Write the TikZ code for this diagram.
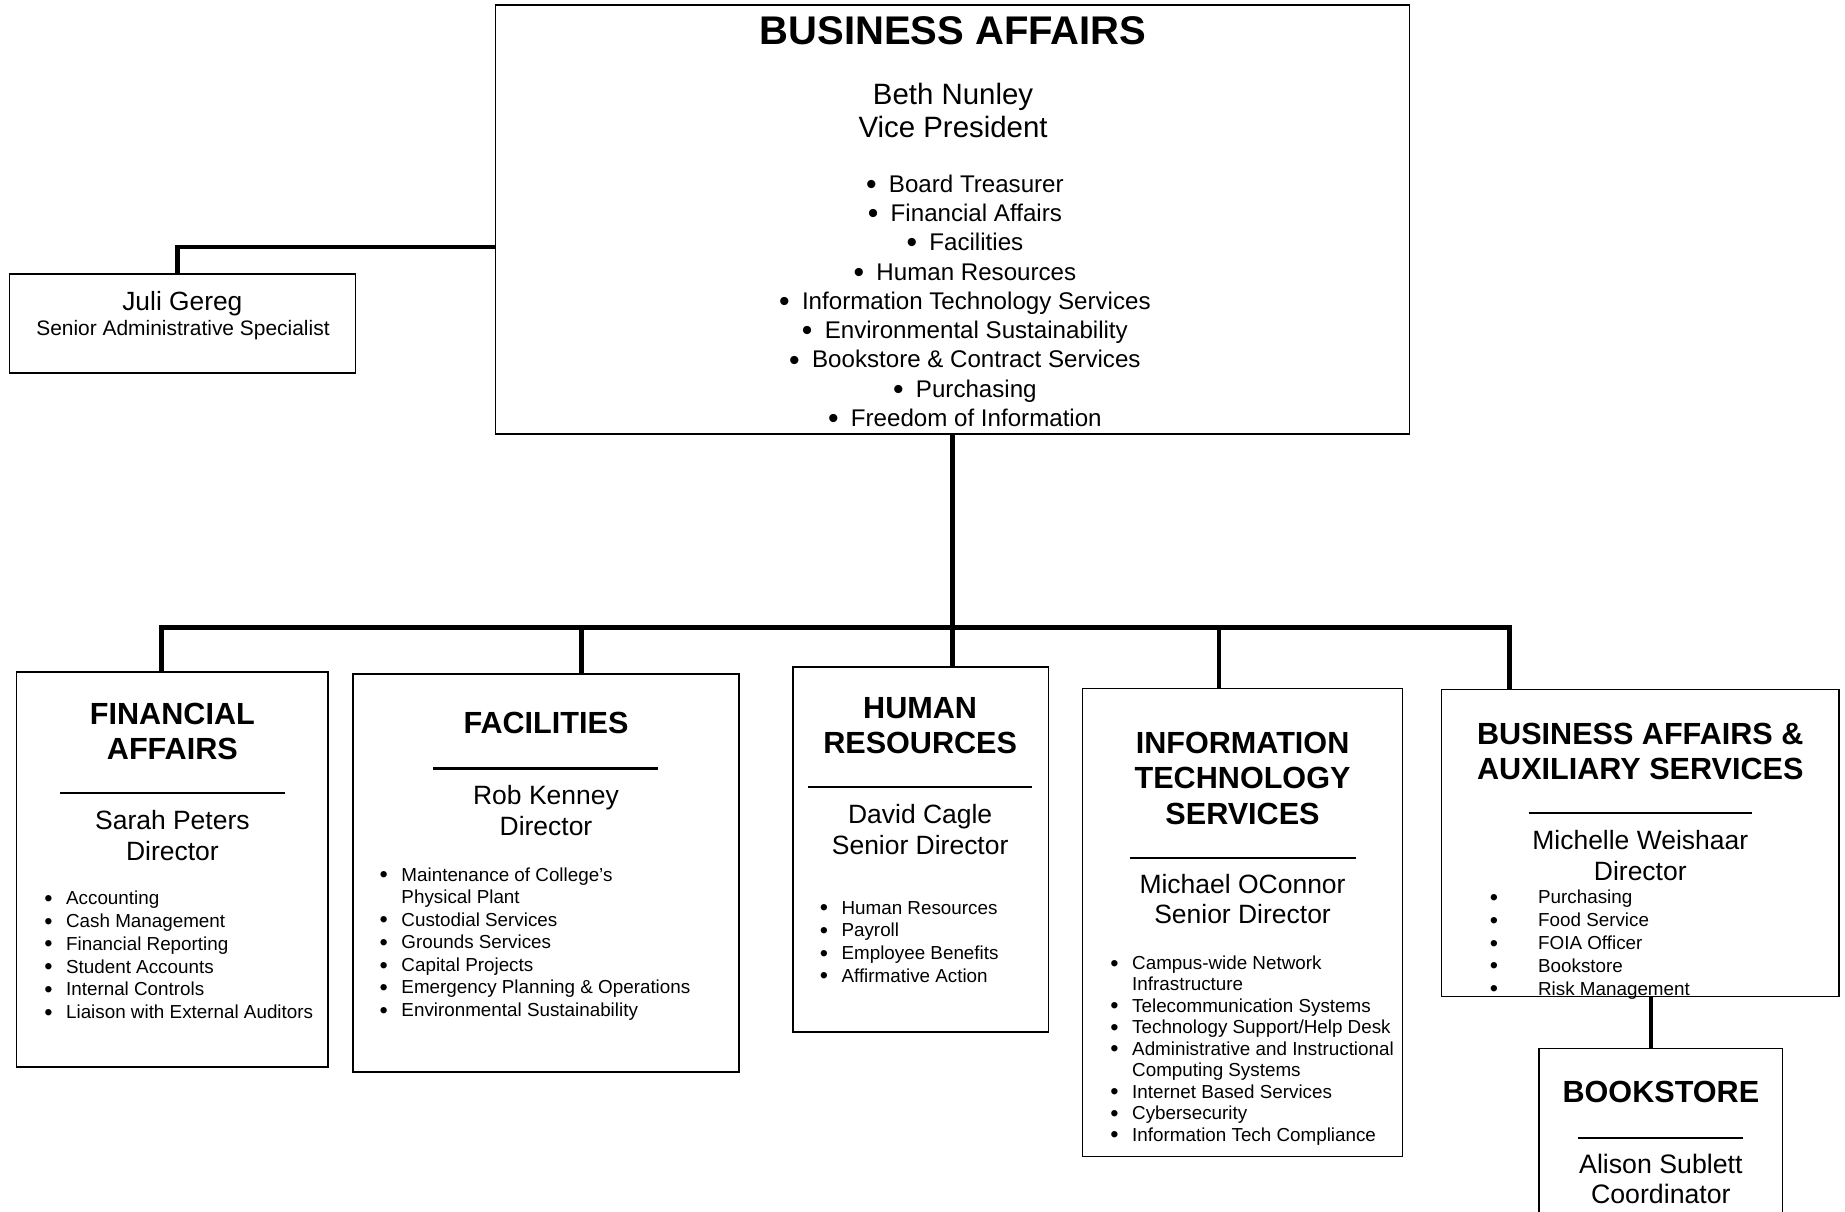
\documentclass[tikz,border=0pt]{standalone}
\usepackage{fontspec}
\setmainfont{Liberation Sans}
\newcommand{\bul}{\raisebox{-0.09em}{\scalebox{1.25}{•}}}
\begin{document}
\begin{tikzpicture}[x=1pt,y=-1pt,
  box/.style={draw, line width=1.4pt, inner sep=0pt, fill=none},
  conn/.style={line width=4pt, line join=miter},
  sepline/.style={line width=2pt},
  ttl/.style={font=\bfseries\fontsize{26}{30}\selectfont, inner sep=0pt, anchor=base},
  who/.style={font=\fontsize{22.5}{26}\selectfont, inner sep=0pt, anchor=base},
  lst/.style={inner sep=0pt, anchor=base west}]
\useasboundingbox (0,0) rectangle (1568,1030);
\clip (0,0) rectangle (1568,1030);

% ---------- boxes ----------
\node[box, minimum width=777pt, minimum height=365pt] (ba) at (809.5,186.5) {};
\node[box, minimum width=294pt, minimum height=84pt] (juli) at (155,275) {};
\node[box, minimum width=265pt, minimum height=336pt] (fin) at (146.5,739) {};
\node[box, minimum width=328pt, minimum height=338pt] (fac) at (464,742) {};
\node[box, minimum width=217pt, minimum height=310pt] (hr) at (782.5,722) {};
\node[box, minimum width=272pt, minimum height=398pt] (it) at (1056,784) {};
\node[box, minimum width=338pt, minimum height=261pt] (baas) at (1394,716.5) {};
\node[box, minimum width=207pt, minimum height=154pt] (book) at (1411.5,968) {};

% ---------- connectors ----------
\draw[conn] ([yshift=-23.5pt]ba.west) -| ([xshift=-4pt]juli.north);
\draw[conn] (ba.south) -- (ba.south |- hr.north);
\coordinate (j1) at (137,533);
\coordinate (j2) at (494,533);
\coordinate (j4) at (1036,533);
\coordinate (j5) at (1283,533);
\draw[conn] (j1 |- fin.north) -- (j1) -- (j5) -- (j5 |- baas.north);
\draw[conn] (j2) -- (j2 |- fac.north);
\draw[conn] (j4) -- (j4 |- it.north);
\draw[conn] ([xshift=-8.5pt]book.north) -- ([xshift=-8.5pt]book.north |- baas.south);

% ---------- top box ----------
\node[inner sep=0pt, anchor=base, font=\bfseries\fontsize{34}{40}\selectfont] (baT) at (810,37.5) {BUSINESS AFFAIRS};
\node[inner sep=0pt, anchor=base, font=\fontsize{25}{28}\selectfont] (baN) at (810,89)
  {\begin{tabular}[t]{@{}c@{}}Beth Nunley\\Vice President\end{tabular}};
\node[inner sep=0pt, anchor=base, font=\fontsize{20.5}{24.875}\selectfont] (baL) at (820,163.4)
  {\begin{tabular}[t]{@{}c@{}}
  \bul\hspace{10.5pt}Board Treasurer\\
  \bul\hspace{10.5pt}Financial Affairs\\
  \bul\hspace{10.5pt}Facilities\\
  \bul\hspace{10.5pt}Human Resources\\
  \bul\hspace{10.5pt}Information Technology Services\\
  \bul\hspace{10.5pt}Environmental Sustainability\\
  \bul\hspace{10.5pt}Bookstore \& Contract Services\\
  \bul\hspace{10.5pt}Purchasing\\
  \bul\hspace{10.5pt}Freedom of Information
  \end{tabular}};

% ---------- Juli ----------
\node[inner sep=0pt, anchor=base, font=\fontsize{22.4}{26}\selectfont] (juliN) at (155,264) {Juli Gereg};
\node[inner sep=0pt, anchor=base, font=\fontsize{17.8}{21}\selectfont] (juliR) at (155.5,285.3) {Senior Administrative Specialist};

% ---------- Financial Affairs ----------
\node[ttl] (finT) at (146.5,615.3) {\begin{tabular}[t]{@{}c@{}}FINANCIAL\\AFFAIRS\end{tabular}};
\draw[sepline] (51,674) -- (242,674);
\node[who] (finN) at (146.5,705) {\begin{tabular}[t]{@{}c@{}}Sarah Peters\\Director\end{tabular}};
\node[lst, font=\fontsize{16}{19.4}\selectfont] (finL) at (37.5,768.8)
  {\begin{tabular}[t]{@{}l@{\hspace{11.5pt}}l@{}}
  \bul&Accounting\\
  \bul&Cash Management\\
  \bul&Financial Reporting\\
  \bul&Student Accounts\\
  \bul&Internal Controls\\
  \bul&Liaison with External Auditors
  \end{tabular}};

% ---------- Facilities ----------
\node[ttl] (facT) at (464,623.3) {FACILITIES};
\draw[sepline] (368,653) -- (559,653);
\node[who] (facN) at (464,684) {\begin{tabular}[t]{@{}c@{}}Rob Kenney\\Director\end{tabular}};
\node[lst, font=\fontsize{16}{19.17}\selectfont] (facL) at (322.5,748.8)
  {\begin{tabular}[t]{@{}l@{\hspace{11.5pt}}l@{}}
  \bul&Maintenance of College’s\\
  &Physical Plant\\
  \bul&Custodial Services\\
  \bul&Grounds Services\\
  \bul&Capital Projects\\
  \bul&Emergency Planning \& Operations\\
  \bul&Environmental Sustainability
  \end{tabular}};

% ---------- Human Resources ----------
\node[ttl] (hrT) at (782,610.3) {\begin{tabular}[t]{@{}c@{}}HUMAN\\RESOURCES\end{tabular}};
\draw[sepline] (687,669) -- (877,669);
\node[who] (hrN) at (782,700) {\begin{tabular}[t]{@{}c@{}}David Cagle\\Senior Director\end{tabular}};
\node[lst, font=\fontsize{16}{19.33}\selectfont] (hrL) at (696.5,776.8)
  {\begin{tabular}[t]{@{}l@{\hspace{11.5pt}}l@{}}
  \bul&Human Resources\\
  \bul&Payroll\\
  \bul&Employee Benefits\\
  \bul&Affirmative Action
  \end{tabular}};

% ---------- IT ----------
\node[ttl] (itT) at (1056,640.3) {\begin{tabular}[t]{@{}c@{}}INFORMATION\\TECHNOLOGY\\SERVICES\end{tabular}};
\draw[sepline] (960,729) -- (1152,729);
\node[who] (itN) at (1056,759) {\begin{tabular}[t]{@{}c@{}}Michael OConnor\\Senior Director\end{tabular}};
\node[lst, font=\fontsize{16}{18.25}\selectfont] (itL) at (943.5,823.8)
  {\begin{tabular}[t]{@{}l@{\hspace{11.5pt}}l@{}}
  \bul&Campus-wide Network\\
  &Infrastructure\\
  \bul&Telecommunication Systems\\
  \bul&Technology Support/Help Desk\\
  \bul&Administrative and Instructional\\
  &Computing Systems\\
  \bul&Internet Based Services\\
  \bul&Cybersecurity\\
  \bul&Information Tech Compliance
  \end{tabular}};

% ---------- Business Affairs & Auxiliary Services ----------
\node[ttl, font=\bfseries\fontsize{26}{30.5}\selectfont] (baasT) at (1394,632.3) {\begin{tabular}[t]{@{}c@{}}BUSINESS AFFAIRS \&\\AUXILIARY SERVICES\end{tabular}};
\draw[sepline] (1299,691) -- (1489,691);
\node[who] (baasN) at (1394,722) {\begin{tabular}[t]{@{}c@{}}Michelle Weishaar\\Director\end{tabular}};
\node[lst, font=\fontsize{16}{19.5}\selectfont] (baasL) at (1266,767.8)
  {\begin{tabular}[t]{@{}l@{\hspace{34pt}}l@{}}
  \bul&Purchasing\\
  \bul&Food Service\\
  \bul&FOIA Officer\\
  \bul&Bookstore\\
  \bul&Risk Management
  \end{tabular}};

% ---------- Bookstore ----------
\node[ttl] (bookT) at (1411.5,937.3) {BOOKSTORE};
\draw[sepline] (1341,967) -- (1481,967);
\node[who, font=\fontsize{22.7}{26}\selectfont] (bookN) at (1411.5,997) {\begin{tabular}[t]{@{}c@{}}Alison Sublett\\Coordinator\end{tabular}};
\end{tikzpicture}
\end{document}
